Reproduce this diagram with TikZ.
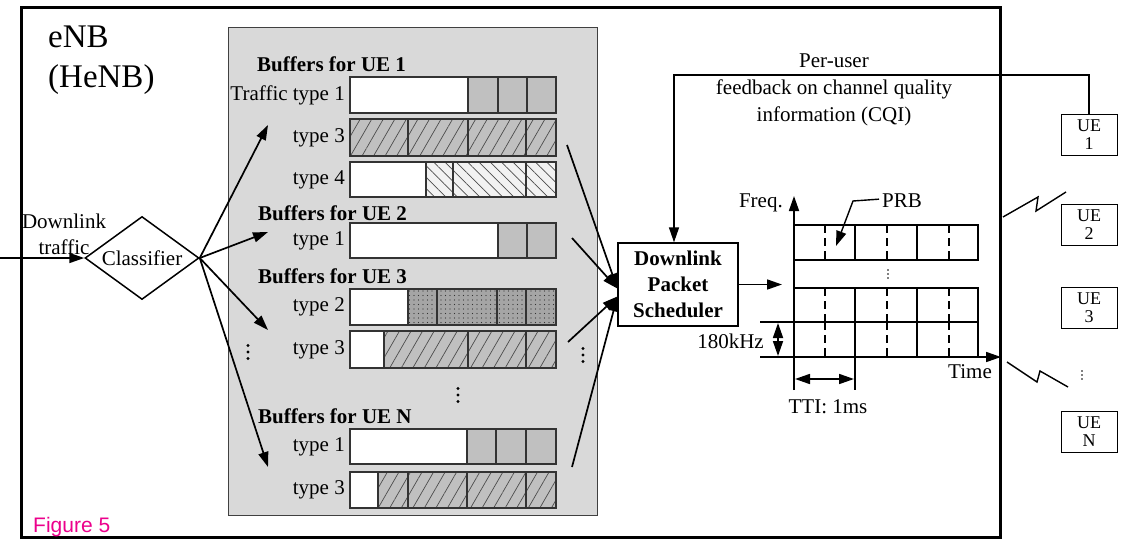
\documentclass[tikz,border=0pt]{standalone}
\usepackage{fontspec}
\setmainfont{Liberation Serif}
\newfontfamily\figfont{Liberation Sans}
\usetikzlibrary{arrows.meta}
\usetikzlibrary{shapes.geometric}
\usetikzlibrary{patterns.meta}

\definecolor{panelgray}{RGB}{217,217,217}
\definecolor{cellgray}{RGB}{192,192,192}
\definecolor{dotgray}{RGB}{165,165,165}
\definecolor{lightcell}{RGB}{242,242,242}

\tikzset{
  txt/.style={font=\fontsize{21}{26}\selectfont,inner sep=0pt},
  hdr/.style={font=\bfseries\fontsize{21}{26}\selectfont,inner sep=0pt,anchor=base west},
  cellline/.style={line width=1.5pt,draw=black!80},
  solidcell/.style={fill=cellgray},
  hatchcell/.style={fill=cellgray,postaction={pattern={Lines[angle=60,distance=10pt,line width=0.7pt]},pattern color=black!70}},
  backcell/.style={fill=lightcell,postaction={pattern={Lines[angle=-45,distance=8pt,line width=0.7pt]},pattern color=black!70}},
  dotcell/.style={fill=dotgray,postaction={pattern={Dots[distance=4.5pt,radius=0.6pt]},pattern color=black!80}},
  gridline/.style={line width=1.4pt},
  uebox/.style={draw,line width=1pt,minimum width=56,minimum height=41,inner sep=0pt,align=center,font=\fontsize{18}{18}\selectfont},
  arr/.style={->,line width=1.7pt}
}

% one buffer queue: top, bottom, end of the empty part, fill style, cell borders
\newcommand{\bufrow}[5]{%
  \fill[white] (350,#1) rectangle (#3,#2);
  \path[#4] (#3,#1) rectangle (556,#2);
  \foreach \d in {#5} \draw[cellline] (\d,#1) -- (\d,#2);
  \draw[cellline] (350,#1) rectangle (556,#2);
}
% three dots in a column: x, middle y, dot radius, spacing
\newcommand{\dotcol}[4]{%
  \foreach \k in {-1,0,1} \fill (#1,#2+\k*#4) circle (#3);
}

\begin{document}
\begin{tikzpicture}[line cap=butt,line join=miter,>={Triangle[length=15pt,width=10pt]},x=1pt,y=-1pt]
  \useasboundingbox (0,0) rectangle (1121,543);
  \fill[white] (0,0) rectangle (1121,543);

  % base station frame
  \draw[line width=3pt] (21,8) rectangle (1000,537);
  \node[font=\fontsize{33}{40}\selectfont,inner sep=0pt,align=left,anchor=north west] (enb) at (48,26) {eNB\\(HeNB)};
  \node[font=\figfont\fontsize{21}{24}\selectfont,text=magenta,inner sep=0pt,anchor=base west] (fig) at (33,532) {Figure 5};

  % buffer panel
  \draw[fill=panelgray,draw=black!75,line width=1pt] (228,28) rectangle (597,515);

  \node[hdr] (h1) at (257,71) {Buffers for UE 1};
  \bufrow{77}{113}{468}{solidcell}{468,498,527}
  \bufrow{119}{156}{350}{hatchcell}{408,468,526}
  \bufrow{162}{197}{426}{backcell}{426,453,526}
  \node[hdr] (h2) at (258,220) {Buffers for UE 2};
  \bufrow{223}{258}{498}{solidcell}{498,527}
  \node[hdr] (h3) at (258,283) {Buffers for UE 3};
  \bufrow{289}{325}{408}{dotcell}{408,437,497,526}
  \bufrow{331}{368}{384}{hatchcell}{384,468,526}
  \node[hdr] (hn) at (258,423) {Buffers for UE N};
  \bufrow{429}{464}{467}{solidcell}{467,496,526}
  \bufrow{472}{508}{378}{hatchcell}{378,408,467,526}

  \node[txt,anchor=east] (t11) at (345,95) {Traffic type 1};
  \foreach \y/\n/\t in {137.5/t13/type 3, 179.5/t14/type 4, 240.5/t21/type 1, 307/t32/type 2, 349.5/t33/type 3, 446.5/tn1/type 1, 490/tn3/type 3}
    \node[txt,anchor=east] (\n) at (345,\y) {\t};
  \dotcol{458}{395}{1.7pt}{6.5}

  % classifier
  \node[draw,diamond,line width=1.5pt,aspect=1.4,minimum width=114,minimum height=83,inner sep=0pt,txt] (cls) at (142,258) {Classifier};
  \node[txt,align=center] (dl) at (64,234) {Downlink\\traffic};
  \coordinate (in) at (0,258);
  \draw[arr] (in) -- (cls.west);
  \coordinate (q1) at (268,125);
  \coordinate (q2) at (268,232);
  \coordinate (q3) at (268,330);
  \coordinate (qn) at (268,467);
  \foreach \q in {q1,q2,q3,qn}
    \draw[arr] (cls.east) -- (\q);
  \dotcol{248}{352}{1.7pt}{6.5}

  % scheduler
  \node[draw,line width=1.3pt,minimum width=120,minimum height=83,inner sep=0pt,align=center,font=\bfseries\fontsize{21}{26}\selectfont] (sched) at (678,284.5) {Downlink\\Packet\\Scheduler};
  \coordinate (s1) at (567,145);
  \coordinate (s2) at (572,238);
  \coordinate (s3) at (568,342);
  \coordinate (sn) at (572,467);
  \draw[arr] (s1) -- ([yshift=-4pt]sched.west);
  \draw[arr] (s2) -- ([yshift=-4pt]sched.west);
  \draw[arr] (s3) -- ([yshift=-12pt]sched.west);
  \draw[arr] (sn) -- ([yshift=-12pt]sched.west);
  \dotcol{583}{355}{1.7pt}{6.5}

  % resource grid
  \coordinate (gin) at (782,284.5);
  \draw[arr] (sched.east) -- (gin);
  \foreach \ya/\yb in {225/260,288/322,322/357} {
    \draw[gridline] (794,\ya) rectangle (978,\yb);
    \foreach \x in {855,917}
      \draw[gridline] (\x,\ya) -- (\x,\yb);
    \foreach \x in {825,887,949}
      \draw[gridline,dash pattern=on 8pt off 5pt] (\x,\ya) -- (\x,\yb);
  }
  \dotcol{888}{274}{0.9pt}{4}
  \coordinate (f0) at (794,390);
  \coordinate (f1) at (794,196);
  \coordinate (t0) at (794,357);
  \coordinate (t1) at (1001,357);
  \draw[arr] (f0) -- (f1);
  \draw[arr] (t0) -- (t1);
  \node[txt,anchor=base east] (freq) at (783,207) {Freq.};
  \node[txt,anchor=base east] (time) at (992,378) {Time};
  \node[txt,anchor=base west] (prb) at (882,207) {PRB};
  \draw[line width=1.4pt,->] ([xshift=-3pt,yshift=1pt]prb.west) -- (853,201) -- (836,246);

  % bandwidth of one block
  \draw[gridline] (760,322) -- (794,322);
  \draw[gridline] (760,357) -- (794,357);
  \draw[line width=1.7pt,<->] (778,323) -- (778,356);
  \node[txt,anchor=base east] (khz) at (764,348) {180kHz};

  % one TTI
  \draw[gridline] (855,357) -- (855,390);
  \draw[line width=1.7pt,<->] (795,379) -- (854,379);
  \node[txt,anchor=base] (tti) at (828,413) {TTI: 1ms};

  % user equipment
  \node[uebox] (ue1) at (1089,135) {UE\\1};
  \node[uebox] (ue2) at (1089,225) {UE\\2};
  \node[uebox] (ue3) at (1089,308) {UE\\3};
  \node[uebox] (uen) at (1089,432) {UE\\N};
  \dotcol{1082}{375}{0.9pt}{4}

  % CQI feedback
  \draw[line width=1.3pt,->] (ue1.north) -- ++(0,-39) -| ([xshift=-4pt]sched.north);
  \node[txt,align=center,font=\fontsize{21}{27}\selectfont] (cqi) at (834,90) {Per-user\\feedback on channel quality\\information (CQI)};

  % radio links
  \draw[line width=1.4pt] (1003,217) -- (1038,197) -- (1036,211) -- (1066,192);
  \draw[line width=1.4pt] (1007,362) -- (1037,382) -- (1040,371) -- (1068,387);
\end{tikzpicture}
\end{document}
